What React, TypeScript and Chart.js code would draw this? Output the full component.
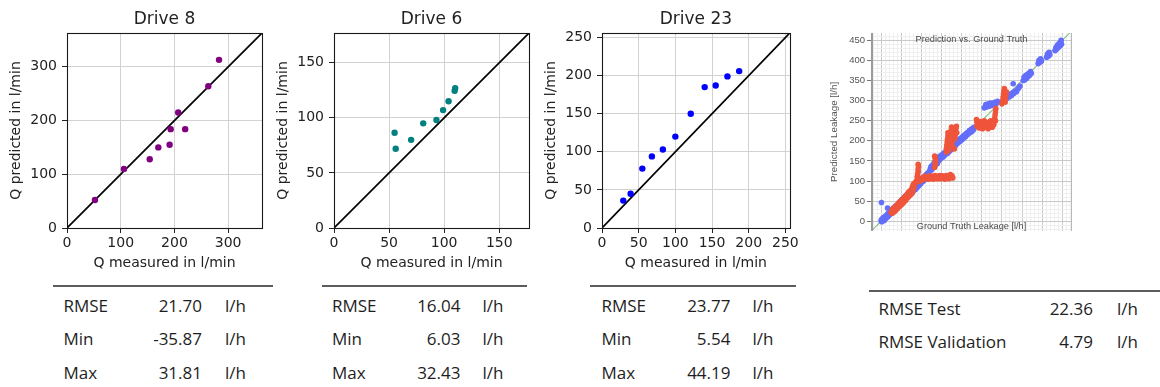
import React, { useEffect, useRef } from 'react';
import { Chart, registerables } from 'chart.js';

Chart.register(...registerables);

// ---------- Drive panels ----------
const drive8Measured = [52, 106, 154, 170, 191, 193, 207, 220, 263, 283];
const drive8Predicted = [52, 110, 128, 150, 155, 184, 215, 184, 264, 313];

const drive6Measured = [55, 56, 70, 81, 93, 99, 104, 109.5, 110];
const drive6Predicted = [86.5, 72, 80, 95, 98, 107, 115, 124.5, 127];

const drive23Measured = [29, 39, 55, 68, 83, 100, 121, 140, 155, 171, 187];
const drive23Predicted = [36, 45, 78, 94, 103, 120, 150, 185, 187, 199, 206];

const drive8AxisMax = 363;
const drive6AxisMax = 177;
const drive23AxisMax = 256;

// ---------- Stats tables ----------
const statLabels = ['RMSE', 'Min', 'Max'];
const drive8Stats = ['21.70', '-35.87', '31.81'];
const drive6Stats = ['16.04', '6.03', '32.43'];
const drive23Stats = ['23.77', '5.54', '44.19'];
const overallLabels = ['RMSE Test', 'RMSE Validation'];
const overallStats = ['22.36', '4.79'];
const unitLabel = 'l/h';

// ---------- Prediction vs Ground Truth panel ----------
const validationPoints: [number, number][] = [
  [0, 1], [1, 4], [2, -1], [3, 6], [4, 2], [5, 9], [6, 4], [7, 7], [8, 2], [9, 11], [10, 6], [11, 9], [12, 14], [13, 8], [14, 12],
  [15, 17], [16, 11], [17, 15], [18, 20], [19, 14], [20, 18], [21, 23], [22, 17], [24, 21], [25, 26], [26, 20], [28, 25], [29, 31],
  [30, 24], [32, 29], [33, 35], [35, 31], [36, 38], [38, 34], [40, 40], [1, 47], [16, 33],
  [42, 38], [44, 45], [46, 41], [48, 50], [50, 46], [52, 54], [54, 49], [56, 57], [58, 53], [60, 62], [62, 57], [64, 66], [66, 60],
  [68, 70], [70, 64], [72, 74], [74, 68], [76, 78], [78, 72], [80, 82], [82, 77], [84, 86], [86, 80], [88, 90], [90, 85], [92, 94],
  [94, 89], [96, 98], [98, 93], [100, 103], [102, 98], [104, 107], [106, 101], [108, 112], [110, 106], [112, 116], [114, 110],
  [116, 120], [118, 114], [120, 124], [122, 130], [124, 136], [126, 128], [128, 140], [130, 134], [132, 146], [134, 138], [136, 143],
  [138, 148], [140, 144], [142, 158], [144, 152], [146, 162], [148, 156], [150, 160], [152, 166], [154, 160], [156, 170], [158, 164],
  [160, 172], [162, 168], [164, 176], [166, 170], [168, 180], [170, 174], [172, 184], [174, 178], [176, 186], [178, 182], [180, 190],
  [182, 186], [184, 194], [186, 190], [188, 198], [190, 194], [192, 202], [194, 198], [196, 205], [198, 200], [200, 208], [202, 204],
  [204, 212], [206, 208], [208, 215], [210, 211], [212, 219], [214, 215], [216, 222], [218, 218], [220, 226], [222, 221], [224, 229],
  [226, 224], [228, 232], [230, 228], [232, 234],
  [256, 282], [260, 290], [262, 284], [266, 292], [268, 286], [272, 294], [274, 288], [278, 292], [282, 296], [286, 292], [289, 298],
  [312, 305], [315, 312], [318, 309], [321, 316], [324, 313], [327, 320], [330, 318], [333, 324], [336, 322], [339, 328], [342, 332],
  [345, 336], [328, 342],
  [353, 350], [355, 358], [357, 352], [359, 362], [361, 355], [363, 365], [365, 360], [367, 368], [369, 363], [371, 372], [373, 368],
  [390, 392], [392, 400], [394, 395], [396, 404], [398, 398],
  [411, 408], [413, 416], [415, 410], [417, 420], [419, 414],
  [432, 424], [434, 432], [436, 428], [438, 438], [440, 432], [442, 442], [444, 436], [446, 446], [448, 440], [447, 450],
];

const testPoints: [number, number][] = [
  [25, 22], [27, 28], [28, 20], [30, 26], [31, 33], [33, 24], [34, 30], [36, 37], [37, 28], [38, 34], [40, 42], [41, 32], [42, 38],
  [44, 46], [45, 36], [46, 42], [48, 50], [49, 40], [50, 46], [52, 54], [53, 44], [54, 50], [56, 58], [57, 48], [58, 55], [60, 62],
  [61, 52], [62, 60], [64, 66], [65, 58], [66, 64], [68, 72], [69, 62], [70, 68], [72, 76], [73, 66], [74, 72], [76, 80], [77, 70],
  [78, 86], [79, 76], [80, 92], [82, 84], [84, 96],
  [90, 108], [90, 112], [91, 118], [92, 124], [92, 130], [93, 136], [92, 142],
  [86, 96], [88, 100], [90, 98], [94, 104], [96, 100], [98, 106], [100, 102], [102, 108], [104, 104], [106, 110], [108, 106],
  [110, 112], [112, 108], [114, 106], [116, 111], [118, 105], [120, 110], [122, 113], [124, 106], [126, 109], [128, 112], [130, 105],
  [132, 110], [134, 114], [136, 107], [138, 111], [140, 106], [142, 112], [144, 108], [146, 114], [148, 106], [150, 110], [152, 113],
  [154, 107], [156, 111], [158, 105], [160, 109], [162, 114], [164, 108], [166, 112], [168, 106], [170, 110], [172, 116], [174, 109],
  [176, 113], [178, 108],
  [133, 134], [134, 140], [135, 146], [135, 152], [134, 158], [133, 162],
  [162, 172], [162, 180], [163, 188], [164, 196], [165, 204], [166, 212], [166, 220], [168, 176], [169, 186], [170, 194], [171, 202],
  [172, 210], [173, 218], [174, 226], [175, 234], [176, 190], [177, 200], [178, 208], [179, 216], [180, 224], [181, 232], [182, 180],
  [183, 206], [184, 214], [185, 222], [186, 230], [187, 236], [188, 220],
  [238, 236], [238, 246], [237, 253], [242, 240], [244, 232], [246, 248], [248, 238], [250, 244], [252, 230], [254, 236], [256, 250],
  [258, 240], [260, 234], [262, 246], [264, 238], [266, 230], [268, 244], [270, 236], [272, 250], [274, 240], [276, 234], [278, 246],
  [280, 240], [282, 256], [283, 264], [284, 272], [285, 280], [284, 250],
  [300, 292], [302, 300], [303, 308], [304, 316], [305, 324], [306, 330], [308, 296], [309, 306], [310, 314], [311, 322],
];

const gtXMin = -25;
const gtXMax = 474;
const gtYMin = -24;
const gtYMax = 468;
const gtTitle = 'Prediction vs. Ground Truth';
const gtXLabel = 'Ground Truth Leakage [l/h]';
const gtYLabel = 'Predicted Leakage [l/h]';

// ---------- chart configs ----------
const MPL_FONT = "'DejaVu Sans', sans-serif";
const TEXT = '#222';

const spinesPlugin = {
  id: 'spines',
  afterDraw(chart: any) {
    const { ctx, chartArea: a } = chart;
    ctx.save();
    ctx.strokeStyle = '#1a1a1a';
    ctx.lineWidth = 1.1;
    ctx.strokeRect(Math.round(a.left) + 0.5, Math.round(a.top) + 0.5, Math.round(a.right - a.left), Math.round(a.bottom - a.top));
    ctx.restore();
  },
};

function driveConfig(title: string, xs: number[], ys: number[], color: string, max: number, step: number): any {
  return {
    type: 'scatter',
    data: {
      datasets: [
        {
          data: [{ x: 0, y: 0 }, { x: max, y: max }],
          showLine: true,
          borderColor: '#000',
          borderWidth: 1.7,
          pointRadius: 0,
          order: 2,
        },
        {
          data: xs.map((x, i) => ({ x, y: ys[i] })),
          backgroundColor: color,
          borderWidth: 0,
          pointRadius: 3.2,
          order: 1,
        },
      ],
    },
    options: {
      animation: false,
      responsive: false,
      maintainAspectRatio: false,
      layout: { padding: { left: 0, right: 4, top: 0, bottom: 0 } },
      plugins: {
        legend: { display: false },
        tooltip: { enabled: false },
        title: {
          display: true,
          text: title,
          fullSize: false,
          color: TEXT,
          font: { family: MPL_FONT, size: 17, weight: 'normal' },
          padding: { top: 9, bottom: 3.6 },
        },
      },
      scales: {
        x: {
          type: 'linear',
          min: 0,
          max,
          ticks: { stepSize: step, includeBounds: false, color: TEXT, font: { family: MPL_FONT, size: 14 }, padding: 2, maxRotation: 0 },
          grid: { color: '#d2d2d2', tickColor: '#222', tickLength: 5, lineWidth: 1 },
          border: { display: false },
          title: { display: true, text: 'Q measured in l/min', color: TEXT, font: { family: MPL_FONT, size: 14 }, padding: { top: 0, bottom: 8 } },
          afterFit: (s: any) => { s.height = 52; },
        },
        y: {
          type: 'linear',
          min: 0,
          max,
          ticks: { stepSize: step, includeBounds: false, color: TEXT, font: { family: MPL_FONT, size: 14 }, padding: 5 },
          grid: { color: '#d2d2d2', tickColor: '#222', tickLength: 5, lineWidth: 1 },
          border: { display: false },
          title: { display: true, text: 'Q predicted in l/min', color: TEXT, font: { family: MPL_FONT, size: 14 }, padding: { top: 8, bottom: 0 } },
          afterFit: (s: any) => { s.width = 67; },
        },
      },
    },
    plugins: [spinesPlugin],
  };
}

const GT_FONT = "'Liberation Sans', Arial, sans-serif";

const gtPlugin = {
  id: 'gtDecor',
  afterDatasetsDraw(chart: any) {
    const { ctx, chartArea: a } = chart;
    ctx.save();
    ctx.fillStyle = '#4a4a4a';
    ctx.font = `9.2px ${GT_FONT}`;
    ctx.textAlign = 'center';
    ctx.textBaseline = 'middle';
    const cx = (a.left + a.right) / 2;
    ctx.fillText(gtTitle, cx, a.top + 6.5);
    ctx.fillText(gtXLabel, cx, a.bottom - 4.5);
    ctx.strokeStyle = '#9a9a9a';
    ctx.lineWidth = 2;
    ctx.beginPath();
    ctx.moveTo(a.left + 1, a.top);
    ctx.lineTo(a.left + 1, a.bottom);
    ctx.stroke();
    ctx.strokeStyle = '#b8b8b8';
    ctx.lineWidth = 1;
    ctx.beginPath();
    ctx.moveTo(Math.round(a.right) - 0.5, a.top);
    ctx.lineTo(Math.round(a.right) - 0.5, a.bottom);
    ctx.stroke();
    ctx.restore();
  },
};

const gridColor = (ctx: any) => {
  const v = ctx.tick ? ctx.tick.value : 0;
  return Math.abs(v % 50) < 1e-6 ? '#c9c9c9' : '#efefef';
};

function gtConfig(): any {
  return {
    type: 'scatter',
    data: {
      datasets: [
        {
          data: [{ x: gtXMin, y: gtXMin }, { x: gtXMax, y: gtXMax }],
          showLine: true,
          borderColor: '#4aa04a',
          borderWidth: 1,
          pointRadius: 0,
          order: 3,
        },
        {
          data: validationPoints.map(([x, y]) => ({ x, y })),
          backgroundColor: '#636efa',
          borderWidth: 0,
          pointRadius: 2.8,
          order: 2,
        },
        {
          data: testPoints.map(([x, y]) => ({ x, y })),
          backgroundColor: '#ef553b',
          borderWidth: 0,
          pointRadius: 2.8,
          order: 1,
        },
      ],
    },
    options: {
      animation: false,
      responsive: false,
      maintainAspectRatio: false,
      layout: { padding: { left: 0, right: 8, top: 13, bottom: 9 } },
      plugins: { legend: { display: false }, tooltip: { enabled: false }, title: { display: false } },
      scales: {
        x: {
          type: 'linear',
          min: gtXMin,
          max: gtXMax,
          ticks: { display: false, stepSize: 10, includeBounds: false, autoSkip: false, maxTicksLimit: 200 },
          grid: { color: gridColor, drawTicks: false, lineWidth: 1 },
          border: { display: false },
          afterFit: (s: any) => { s.height = 0; },
        },
        y: {
          type: 'linear',
          min: gtYMin,
          max: gtYMax,
          ticks: {
            stepSize: 10,
            includeBounds: false,
            autoSkip: false,
            maxTicksLimit: 200,
            color: '#555',
            font: { family: GT_FONT, size: 9.5 },
            padding: 2,
            callback: (v: any) => (Math.abs(v % 50) < 1e-6 && v >= 0 ? String(v) : ''),
          },
          grid: {
            color: gridColor,
            tickLength: 4,
            tickColor: (ctx: any) => (ctx.tick && Math.abs(ctx.tick.value % 50) < 1e-6 ? '#777' : 'rgba(0,0,0,0)'),
          },
          border: { display: false },
          title: { display: true, text: gtYLabel, color: '#555', font: { family: GT_FONT, size: 9.8 }, padding: { top: 8, bottom: 0 } },
          afterFit: (s: any) => { s.width = 51; },
        },
      },
    },
    plugins: [gtPlugin],
  };
}

// ---------- components ----------
function ChartBox({ make, left, top, width, height }: { make: () => any; left: number; top: number; width: number; height: number }) {
  const ref = useRef<HTMLCanvasElement>(null);
  useEffect(() => {
    const chart = new Chart(ref.current as HTMLCanvasElement, make());
    return () => chart.destroy();
  }, []);
  return <canvas ref={ref} width={width} height={height} style={{ position: 'absolute', left, top, width, height }} />;
}

const TABLE_FONT = "'Open Sans', 'Noto Sans', sans-serif";

type TableLayout = { ruleLeft: number; ruleRight: number; ruleY: number; labelX: number; valueRight: number; unitX: number; rows: number[] };

function StatTable({ labels, values, lay }: { labels: string[]; values: string[]; lay: TableLayout }) {
  const txt: React.CSSProperties = { position: 'absolute', fontFamily: TABLE_FONT, fontSize: 17, lineHeight: '20px', color: '#1e1e1e', whiteSpace: 'nowrap' };
  return (
    <>
      <div style={{ position: 'absolute', left: lay.ruleLeft, top: lay.ruleY - 1, width: lay.ruleRight - lay.ruleLeft, height: 2, background: '#5c5c5c' }} />
      {labels.map((lab, i) => (
        <React.Fragment key={lab}>
          <div style={{ ...txt, left: lay.labelX, top: lay.rows[i] - 10.5 }}>{lab}</div>
          <div style={{ ...txt, left: lay.valueRight - 100, width: 100, textAlign: 'right', top: lay.rows[i] - 10.5 }}>{values[i]}</div>
          <div style={{ ...txt, left: lay.unitX, top: lay.rows[i] - 10.5 }}>{unitLabel}</div>
        </React.Fragment>
      ))}
    </>
  );
}

const rows3 = [306, 339.5, 373];

export default function App() {
  return (
    <div style={{ position: 'fixed', left: 0, top: 0, width: 1160, height: 387, background: '#fff', overflow: 'hidden' }}>
      <ChartBox make={() => driveConfig('Drive 8', drive8Measured, drive8Predicted, '#800080', drive8AxisMax, 100)} left={0} top={0} width={266} height={280} />
      <ChartBox make={() => driveConfig('Drive 6', drive6Measured, drive6Predicted, '#008080', drive6AxisMax, 50)} left={267} top={0} width={266} height={280} />
      <ChartBox make={() => driveConfig('Drive 23', drive23Measured, drive23Predicted, '#0000ff', drive23AxisMax, 50)} left={535} top={0} width={266} height={280} />
      <ChartBox make={gtConfig} left={820} top={20} width={260} height={220} />
      <StatTable labels={statLabels} values={drive8Stats} lay={{ ruleLeft: 53, ruleRight: 273, ruleY: 285.7, labelX: 63.5, valueRight: 202, unitX: 225, rows: rows3 }} />
      <StatTable labels={statLabels} values={drive6Stats} lay={{ ruleLeft: 321.7, ruleRight: 526.7, ruleY: 285.7, labelX: 332, valueRight: 460.5, unitX: 482.5, rows: rows3 }} />
      <StatTable labels={statLabels} values={drive23Stats} lay={{ ruleLeft: 590, ruleRight: 796, ruleY: 286, labelX: 601.5, valueRight: 730.5, unitX: 752.5, rows: rows3 }} />
      <StatTable labels={overallLabels} values={overallStats} lay={{ ruleLeft: 869, ruleRight: 1160, ruleY: 291, labelX: 878.5, valueRight: 1093, unitX: 1117, rows: [309, 342.5] }} />
    </div>
  );
}
